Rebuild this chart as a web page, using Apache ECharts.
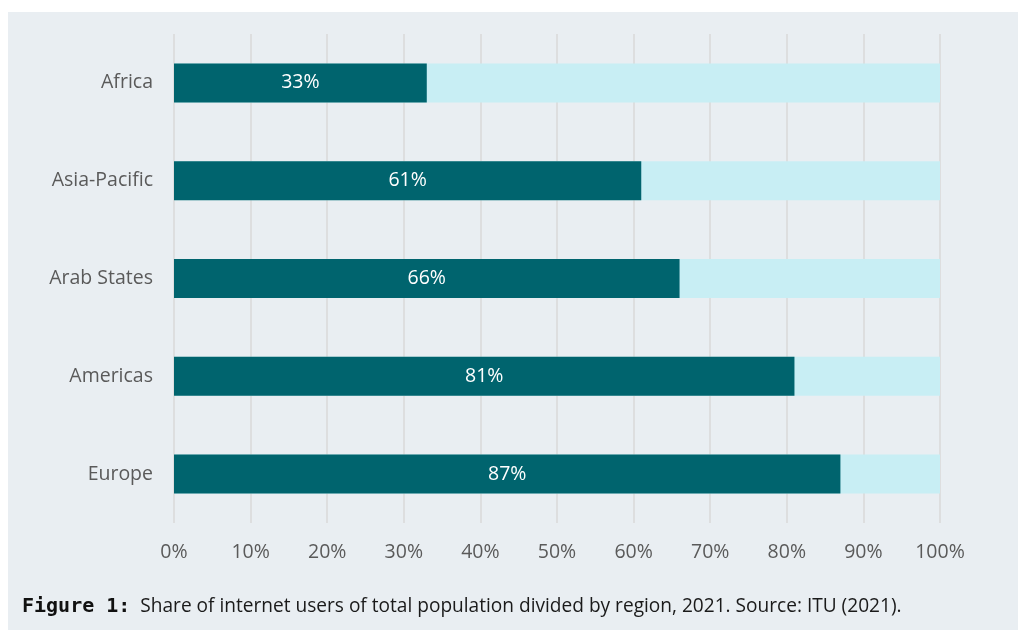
<!DOCTYPE html>
<html>
<head>
<meta charset="utf-8">
<script src="https://cdn.jsdelivr.net/npm/echarts@6/dist/echarts.min.js"></script>
<style>
html,body{margin:0;padding:0;background:#fff;}
#c{width:1025px;height:630px;}
</style>
</head>
<body>
<div id="c"></div>
<script>
const regions = ["Africa", "Asia-Pacific", "Arab States", "Americas", "Europe"];
const shares = [33, 61, 66, 81, 87];
const tickLabels = ["0%","10%","20%","30%","40%","50%","60%","70%","80%","90%","100%"];
const captionLabel = "Figure 1:";
const captionText = "Share of internet users of total population divided by region, 2021. Source: ITU (2021).";

const chart = echarts.init(document.getElementById('c'), null, {renderer: 'canvas'});
const font = '"Source Sans Pro","Open Sans","Noto Sans",sans-serif';
chart.setOption({
  backgroundColor: '#ffffff',
  animation: false,
  graphic: [
    {type: 'rect', z: -10, shape: {x: 8, y: 12, width: 1010, height: 618}, style: {fill: '#e9eef2'}},
    {type: 'text', left: 22, top: 597, style: {
      text: '{b|' + captionLabel + '}{n|  ' + captionText + '}',
      rich: {
        b: {fontFamily: '"DejaVu Sans Mono",monospace', fontWeight: 'bold', fontSize: 20, fill: '#111'},
        n: {fontFamily: font, fontSize: 19.1, fill: '#1a1a1a'}
      }
    }}
  ],
  grid: {left: 174, right: 85, top: 34, bottom: 107, containLabel: false},
  xAxis: {
    type: 'value', min: 0, max: 100, interval: 10,
    axisLine: {show: false}, axisTick: {show: false},
    splitLine: {show: true, lineStyle: {color: '#d9d9d9', width: 1.5}},
    axisLabel: {
      margin: 19, color: '#5a5a5a', fontSize: 19.5, fontFamily: font,
      formatter: (v) => tickLabels[Math.round(v / 10)]
    }
  },
  yAxis: {
    type: 'category', data: regions, inverse: true,
    axisLine: {show: false}, axisTick: {show: false},
    axisLabel: {margin: 21, color: '#5a5a5a', fontSize: 19.5, fontFamily: font, padding: [8, 0, 0, 0]}
  },
  series: [{
    type: 'bar', data: shares, barWidth: 39,
    itemStyle: {color: '#00646e'},
    showBackground: true,
    backgroundStyle: {color: '#c8eef4'},
    label: {
      show: true, position: 'inside', color: '#ffffff', fontSize: 19.5, fontFamily: font,
      padding: [8, 0, 0, 0],
      formatter: (p) => p.value + '%'
    }
  }]
});
</script>
</body>
</html>
